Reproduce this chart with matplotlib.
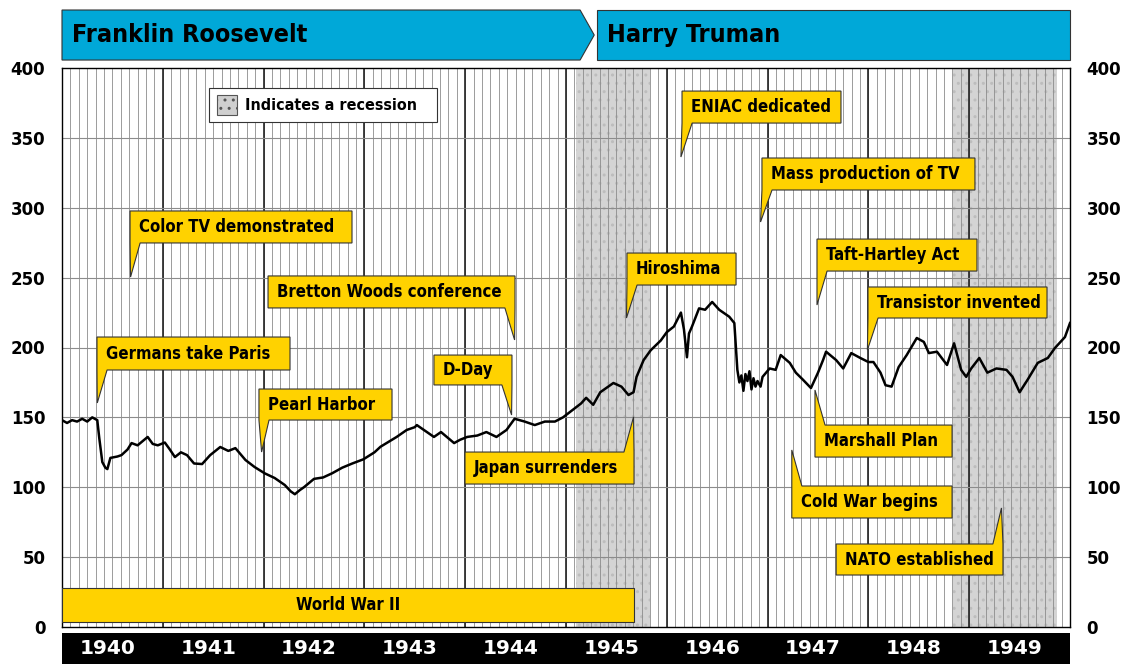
import matplotlib
matplotlib.use("Agg")
import matplotlib.pyplot as plt
from matplotlib.patches import Polygon, Rectangle
from matplotlib import font_manager
import numpy as np

# Dow readings (fractional year, index level)
dates = [1940.00, 1940.05, 1940.10, 1940.15, 1940.20, 1940.25, 1940.30, 1940.35, 1940.37, 1940.40,
         1940.43, 1940.45, 1940.48, 1940.55, 1940.59, 1940.65, 1940.69, 1940.75, 1940.80, 1940.85,
         1940.90, 1940.95, 1941.02, 1941.07, 1941.12, 1941.18, 1941.24, 1941.31, 1941.39, 1941.47,
         1941.57, 1941.65, 1941.72, 1941.82, 1941.91, 1942.01, 1942.11, 1942.21, 1942.27, 1942.31,
         1942.36, 1942.40, 1942.50, 1942.59, 1942.68, 1942.78, 1942.88, 1942.99, 1943.10, 1943.16,
         1943.32, 1943.42, 1943.50, 1943.52, 1943.59, 1943.69, 1943.76, 1943.89, 1943.95, 1944.02,
         1944.12, 1944.21, 1944.31, 1944.41, 1944.49, 1944.59, 1944.69, 1944.79, 1944.89, 1944.97,
         1945.06, 1945.15, 1945.20, 1945.27, 1945.34, 1945.47, 1945.55, 1945.62, 1945.67, 1945.70,
         1945.77, 1945.84, 1945.94, 1946.00, 1946.07, 1946.14, 1946.16, 1946.17, 1946.19, 1946.20,
         1946.22, 1946.25, 1946.32, 1946.38, 1946.45, 1946.52, 1946.62, 1946.67, 1946.70, 1946.72,
         1946.74, 1946.76, 1946.78, 1946.80, 1946.82, 1946.84, 1946.86, 1946.88, 1946.90, 1946.93,
         1946.95, 1947.02, 1947.08, 1947.13, 1947.22, 1947.28, 1947.35, 1947.43, 1947.50, 1947.55,
         1947.58, 1947.68, 1947.75, 1947.83, 1947.92, 1948.00, 1948.05, 1948.12, 1948.17, 1948.23,
         1948.30, 1948.38, 1948.48, 1948.55, 1948.60, 1948.68, 1948.78, 1948.85, 1948.92, 1948.97,
         1949.02, 1949.10, 1949.18, 1949.27, 1949.37, 1949.43, 1949.50, 1949.58, 1949.68, 1949.78,
         1949.85, 1949.95, 1950.00]
dow = [148, 146, 148, 147, 149, 147, 150, 148, 135, 118,
       114, 113, 121, 122, 123, 127, 131.6, 130, 133, 136,
       131, 130, 132, 127, 121.6, 125, 123, 117, 116.6, 123,
       128.8, 126, 128, 119.5, 114.5, 110, 106.6, 101.6, 97, 95,
       98, 100, 106, 107, 110, 114, 117, 120, 125, 129,
       136, 141, 143, 144.5, 141, 136, 139.5, 131.6, 134, 136,
       137, 139.5, 136, 141, 149, 147, 144.5, 147, 147, 150,
       155, 160, 164, 159, 168, 174.6, 172, 166, 168, 179,
       191, 198, 205, 211, 215, 225, 217, 213, 200, 193,
       210, 215, 228, 227, 232.6, 227, 222, 217.5, 184, 175,
       180, 169, 181, 176, 183, 170, 178, 172, 176, 172,
       179, 185, 184, 194.6, 189, 182, 177, 171, 182, 191,
       197, 191, 185, 196, 192.5, 189.6, 189.6, 182, 173, 172,
       186, 194.6, 206.8, 204, 196, 197, 187.5, 203, 184, 179,
       185, 192.5, 182, 185, 184, 179, 168, 177, 189, 192.5,
       199.6, 207.5, 217.5]

recessions = [(1945.10, 1945.83), (1948.84, 1949.87)]
years = list(range(1940, 1950))
y_ticks = list(range(0, 401, 50))

presidents = ["Franklin Roosevelt", "Harry Truman"]

event_labels = ["Color TV demonstrated", "Germans take Paris", "Pearl Harbor",
                "Bretton Woods conference", "D-Day", "Japan surrenders", "Hiroshima",
                "ENIAC dedicated", "Mass production of TV", "Taft-Hartley Act",
                "Transistor invented", "Marshall Plan", "Cold War begins", "NATO established"]
event_dates = [1940.68, 1940.35, 1941.98, 1944.49, 1944.46, 1945.67, 1945.60,
               1946.14, 1946.93, 1947.49, 1947.99, 1947.47, 1947.24, 1949.32]

# callout layout: box left, box right, box bottom, box top, tip height, tail side
callouts = [
    (1940.675, 1942.877, 274.8, 297.7, 250.4, "bl"),
    (1940.347, 1942.262, 183.9, 207.5, 160.3, "bl"),
    (1941.954, 1943.274, 148.1, 170.3, 125.2, "bl"),
    (1942.044, 1944.494, 228.3, 251.2, 205.4, "br"),
    (1943.690, 1944.464, 173.2, 194.6, 151.7, "br"),
    (1943.998, 1945.675, 102.3, 125.2, 150.3, "tr"),
    (1945.605, 1946.687, 244.7, 267.6, 221.1, "bl"),
    (1946.151, 1947.728, 360.6, 383.5, 336.3, "bl"),
    (1946.944, 1949.057, 312.7, 335.6, 289.8, "bl"),
    (1947.490, 1949.077, 254.7, 277.6, 230.4, "bl"),
    (1947.996, 1949.772, 221.1, 243.3, 198.2, "bl"),
    (1947.470, 1948.830, 121.6, 144.5, 169.6, "tl"),
    (1947.240, 1948.830, 78.0, 100.9, 126.7, "tl"),
    (1947.680, 1949.335, 37.2, 59.4, 85.2, "tr"),
]

YELLOW = "#FFD200"
BLUE = "#00A8D8"

names = {f.name for f in font_manager.fontManager.ttflist}
narrow = "Liberation Sans Narrow" if "Liberation Sans Narrow" in names else "DejaVu Sans"

fig = plt.figure(figsize=(11.25, 6.64), dpi=100)
ax = fig.add_axes([62 / 1125, 37 / 664, 1008 / 1125, 559 / 664])
ax.set_xlim(1940, 1950)
ax.set_ylim(0, 400)

for a, b in recessions:
    ax.axvspan(a, b, facecolor="#d4d4d4", edgecolor="#bdbdbd", hatch="..", lw=0, zorder=0)

for m in np.arange(1940, 1950, 1 / 12):
    ax.axvline(m, color="#8c8c8c", lw=0.6, zorder=1)
for y in years[1:]:
    ax.axvline(y, color="#222222", lw=1.2, zorder=1)
for v in y_ticks[1:-1]:
    ax.axhline(v, color="#8c8c8c", lw=0.8, zorder=1)

ax.plot(dates, dow, color="black", lw=1.8, zorder=3)

ax.set_yticks(y_ticks)
ax.set_xticks([])
ax.tick_params(axis="y", length=0, labelsize=12, labelright=True, pad=12)
for lab in ax.get_yticklabels():
    lab.set_fontweight("bold")
for s in ax.spines.values():
    s.set_color("black")
    s.set_linewidth(1.0)


def callout(text, x0, x1, y0, y1, tx, ty, side):
    tw = 0.1
    if side == "bl":
        pts = [(x0, y1), (x1, y1), (x1, y0), (x0 + tw, y0), (tx, ty), (x0, y0)]
    elif side == "br":
        pts = [(x0, y1), (x1, y1), (x1, y0), (tx, ty), (x1 - tw, y0), (x0, y0)]
    elif side == "tl":
        pts = [(x0, y0), (x0, y1), (tx, ty), (x0 + tw, y1), (x1, y1), (x1, y0)]
    else:
        pts = [(x0, y0), (x0, y1), (x1 - tw, y1), (tx, ty), (x1, y1), (x1, y0)]
    ax.add_patch(Polygon(pts, closed=True, facecolor=YELLOW, edgecolor="#333333",
                         lw=0.8, zorder=4, clip_on=False))
    ax.text(x0 + 0.09, (y0 + y1) / 2, text, ha="left", va="center", fontsize=12,
            fontweight="bold", family=narrow, fontstretch="condensed", zorder=5)


for lab, d, (x0, x1, y0, y1, ty, side) in zip(event_labels, event_dates, callouts):
    callout(lab, x0, x1, y0, y1, d, ty, side)

# World War II bar
ax.add_patch(Rectangle((1940, 3.6), 1945.675 - 1940, 24.3, facecolor=YELLOW,
                       edgecolor="#333333", lw=0.8, zorder=4))
ax.text((1940 + 1945.675) / 2, 15.8, "World War II", ha="center", va="center", fontsize=12,
        fontweight="bold", family=narrow, fontstretch="condensed", zorder=5)

# legend
ax.add_patch(Rectangle((1941.458, 361.1), 2.262, 24.3, facecolor="white",
                       edgecolor="#333333", lw=0.8, zorder=5))
ax.add_patch(Rectangle((1941.537, 366.4), 0.2, 14.6, facecolor="#cfcfcf",
                       edgecolor="#555555", hatch="..", lw=0.8, zorder=6))
ax.text(1941.815, 373.5, "Indicates a recession", ha="left", va="center", fontsize=11.5,
        fontweight="semibold", family=narrow, fontstretch="condensed", zorder=6)

# president banners
ax.add_patch(Polygon([(1940, 441.5), (1945.14, 441.5), (1945.28, 423.6), (1945.14, 405.7),
                      (1940, 405.7)], closed=True, facecolor=BLUE, edgecolor="#333333",
                     lw=0.8, clip_on=False, zorder=4))
ax.add_patch(Polygon([(1945.31, 441.5), (1950, 441.5), (1950, 405.7), (1945.31, 405.7)],
                     closed=True, facecolor=BLUE, edgecolor="#333333", lw=0.8,
                     clip_on=False, zorder=4))
ax.text(1940.1, 423.6, presidents[0], ha="left", va="center", fontsize=18, fontweight="heavy",
        family=narrow, fontstretch="condensed", zorder=5)
ax.text(1945.41, 423.6, presidents[1], ha="left", va="center", fontsize=18, fontweight="heavy",
        family=narrow, fontstretch="condensed", zorder=5)

# black year band
bx = fig.add_axes([62 / 1125, 0, 1008 / 1125, 31 / 664])
bx.set_facecolor("black")
bx.set_xlim(1940, 1950)
bx.set_ylim(0, 1)
bx.set_xticks([])
bx.set_yticks([])
for s in bx.spines.values():
    s.set_visible(False)
for y in years:
    bx.text(y + 0.45, 0.5, str(y), color="white", ha="center", va="center", fontsize=14.5,
            fontweight="bold")

fig.savefig("out.png", dpi=100)
